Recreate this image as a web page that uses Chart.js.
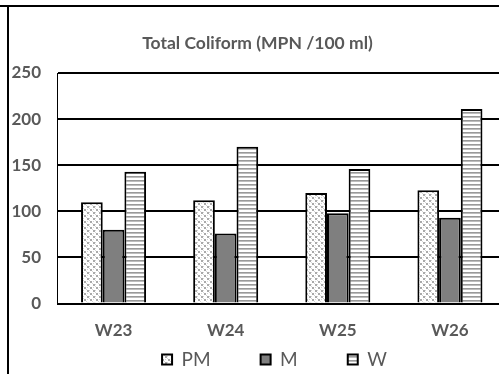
<!DOCTYPE html>
<html>
<head>
<meta charset="utf-8">
<script src="https://cdn.jsdelivr.net/npm/chart.js@4/dist/chart.umd.min.js"></script>
<style>
  html, body { margin: 0; padding: 0; background: #fff; overflow: hidden; }
  body { width: 499px; height: 374px; position: relative; }
  #topRule { position: absolute; left: 0; top: 5px; width: 499px; height: 2px; background: #000; }
  #leftRule { position: absolute; left: 7px; top: 6px; width: 2px; height: 368px; background: #000; }
  #wrap { position: absolute; left: 9px; top: 8px; width: 500px; height: 366px; }
</style>
</head>
<body>
<div id="topRule"></div>
<div id="leftRule"></div>
<div id="wrap"><canvas id="coliformChart" width="500" height="366"></canvas></div>
<script>
const weeks = ["W23", "W24", "W25", "W26"];
const seriesNames = ["PM", "M", "W"];
const pmValues = [110, 112, 120, 123];
const mValues = [80, 76, 98, 93];
const wValues = [143, 170, 146, 211];
const yTicks = [0, 50, 100, 150, 200, 250];

const grey = "#595959";
const labelFont = "Lato, 'Liberation Sans', Arial, sans-serif";

// small fill patterns for the hatched bars
function makePattern(w, h, paint){
  const c = document.createElement("canvas");
  c.width = w; c.height = h;
  const g = c.getContext("2d");
  g.fillStyle = "#fff";
  g.fillRect(0, 0, w, h);
  paint(g);
  return g.createPattern(c, "repeat");
}

const ctx = document.getElementById("coliformChart").getContext("2d");

const dottedDiamond = makePattern(6, 6, g => {
  g.fillStyle = "#a9a9a9";
  g.fillRect(0, 0, 2, 2);
  g.fillRect(3, 3, 2, 2);
  g.fillStyle = "#d6d6d6";
  g.fillRect(2, 2, 1, 1);
  g.fillRect(5, 5, 1, 1);
  g.fillRect(2, 0, 1, 1);
  g.fillRect(0, 3, 1, 1);
});

const hStripes = makePattern(4, 4, g => {
  g.fillStyle = "#999";
  g.fillRect(0, 0, 4, 1);
  g.fillStyle = "#bdbdbd";
  g.fillRect(0, 1, 4, 1);
});

// legend sits lower and a bit right of the default centred spot
const legendPlacement = {
  id: "legendPlacement",
  afterLayout(chart){
    const lg = chart.legend;
    lg.top = 292;
    lg.bottom = 366;
    lg.left += 17;
    lg.right += 17;
  }
};

new Chart(ctx, {
  type: "bar",
  data: {
    labels: weeks,
    datasets: [
      { label: seriesNames[0], data: pmValues, backgroundColor: dottedDiamond },
      { label: seriesNames[1], data: mValues, backgroundColor: "#7f7f7f" },
      { label: seriesNames[2], data: wValues, backgroundColor: hStripes }
    ].map(d => Object.assign(d, { borderColor: "#000", borderWidth: 2 }))
  },
  options: {
    responsive: false,
    animation: false,
    categoryPercentage: 0.58,
    barPercentage: 1,
    layout: { padding: { left: 0, right: 3, top: 0, bottom: 0 } },
    scales: {
      x: {
        grid: { display: false, drawTicks: false },
        border: { color: "#000", width: 2 },
        ticks: {
          color: grey,
          padding: 16.5,
          font: { family: labelFont, size: 17, weight: "bold" }
        }
      },
      y: {
        min: 0,
        max: 250,
        afterBuildTicks(scale){
          scale.ticks = yTicks.map(v => ({ value: v }));
        },
        afterFit(scale){ scale.width = 48.5; },
        grid: { color: "#000", lineWidth: 2, drawTicks: false },
        border: { color: "#000", width: 1 },
        ticks: {
          color: grey,
          padding: 16.5,
          font: { family: labelFont, size: 17, weight: "bold" }
        }
      }
    },
    plugins: {
      title: {
        display: true,
        text: "Total Coliform (MPN /100 ml)",
        color: grey,
        padding: { top: 24.5, bottom: 19.5 },
        font: { family: labelFont, size: 17.5, weight: "bold" }
      },
      legend: {
        position: "bottom",
        maxHeight: 17,
        labels: {
          color: grey,
          boxWidth: 10,
          boxHeight: 10,
          padding: 50,
          font: { family: labelFont, size: 19 }
        }
      },
      tooltip: { enabled: false }
    }
  },
  plugins: [legendPlacement]
});
</script>
</body>
</html>
